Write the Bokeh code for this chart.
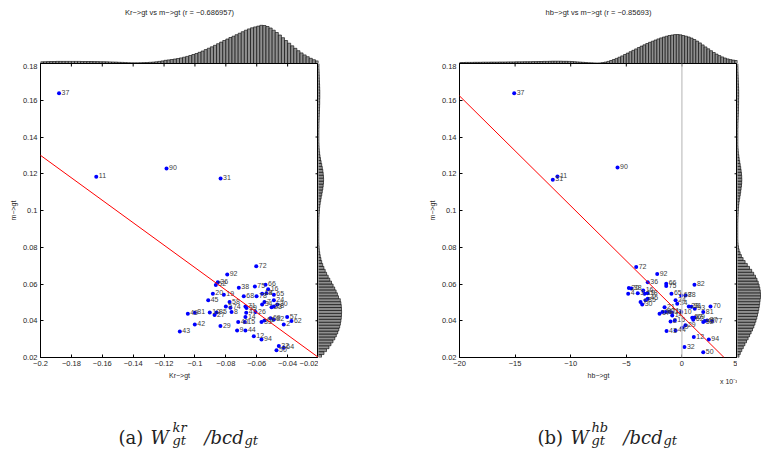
import numpy as np
from bokeh.plotting import figure
from bokeh.layouts import row, column
from bokeh.models import Range1d, FixedTicker, Span, Slope, Title
from bokeh.core.properties import value
from bokeh.embed import file_html
from bokeh.resources import INLINE

# ---------------- data ----------------
kr_ids = [37, 11, 90, 31, 72, 92, 36, 52, 38, 75, 66, 16, 20, 19, 68, 78, 18, 4, 65, 45,
          58, 24, 7, 34, 30, 23, 28, 5, 74, 71, 39, 26, 47, 8, 49, 81, 10, 85, 27, 14,
          69, 82, 61, 33, 57, 62, 2, 40, 15, 42, 29, 43, 9, 44, 12, 94, 32, 64, 50]
kr_x = [-0.188, -0.1639, -0.1184, -0.0834, -0.0603, -0.0791, -0.0852, -0.0865, -0.0716, -0.0612,
        -0.0543, -0.0526, -0.0884, -0.0813, -0.0684, -0.0601, -0.0565, -0.0537, -0.0489, -0.0914,
        -0.0776, -0.0489, -0.0550, -0.0565, -0.0467, -0.0504, -0.0489, -0.0800, -0.0770, -0.0673,
        -0.0666, -0.0608, -0.0668, -0.0763, -0.1046, -0.1001, -0.0904, -0.0860, -0.0873, -0.0673,
        -0.0511, -0.0489, -0.0550, -0.0569, -0.0403, -0.0375, -0.0425, -0.0720, -0.0677, -0.1001,
        -0.0835, -0.1098, -0.0727, -0.0673, -0.0619, -0.0569, -0.0457, -0.0425, -0.0472]
kr_m = [0.1638, 0.1183, 0.1229, 0.1174, 0.0696, 0.0652, 0.0609, 0.0595, 0.0580, 0.0587,
        0.0596, 0.0571, 0.0547, 0.0542, 0.0534, 0.0534, 0.0547, 0.0550, 0.0542, 0.0511,
        0.0502, 0.0511, 0.0502, 0.0489, 0.0489, 0.0474, 0.0478, 0.0478, 0.0471, 0.0478,
        0.0469, 0.0447, 0.0444, 0.0447, 0.0438, 0.0444, 0.0445, 0.0445, 0.0431, 0.0420,
        0.0414, 0.0407, 0.0402, 0.0393, 0.0420, 0.0398, 0.0380, 0.0393, 0.0393, 0.0380,
        0.0371, 0.0342, 0.0347, 0.0347, 0.0315, 0.0298, 0.0262, 0.0253, 0.0239]

hb_ids = [37, 31, 11, 90, 72, 92, 36, 66, 75, 82, 20, 38, 16, 4, 3, 19, 18, 65, 68, 78,
          45, 85, 7, 30, 24, 34, 21, 28, 91, 93, 70, 81, 10, 17, 26, 47, 71, 33, 14, 57,
          69, 62, 15, 2, 87, 77, 52, 42, 29, 9, 44, 43, 12, 94, 32, 50]
hb_x = [-15.08, -11.61, -11.19, -5.79, -4.11, -2.22, -3.07, -1.41, -1.41, 1.13,
        -4.77, -4.55, -3.48, -4.83, -3.97, -3.36, -3.10, -0.94, -0.06, 0.32,
        -3.07, -3.27, -3.72, -3.57, -0.57, -0.42, -1.56, 0.62, 0.85, 1.16,
        2.57, 1.92, -0.06, -2.01, -1.75, -1.45, -1.15, -0.90, -0.87, 0.93,
        1.15, 1.02, -0.64, -1.02, 2.27, 2.72, 1.92, 2.05, 0.32, 0.03,
        -0.57, -1.38, 1.07, 2.42, 0.23, 1.92]
hb_m = [0.1638, 0.1167, 0.1185, 0.1234, 0.0692, 0.0654, 0.0610, 0.0602, 0.0589, 0.0596,
        0.0578, 0.0575, 0.0565, 0.0547, 0.0550, 0.0547, 0.0550, 0.0547, 0.0538, 0.0538,
        0.0520, 0.0511, 0.0502, 0.0489, 0.0511, 0.0493, 0.0474, 0.0478, 0.0476, 0.0465,
        0.0478, 0.0447, 0.0447, 0.0438, 0.0447, 0.0447, 0.0449, 0.0445, 0.0429, 0.0416,
        0.0418, 0.0406, 0.0402, 0.0396, 0.0402, 0.0398, 0.0393, 0.0398, 0.0375, 0.0362,
        0.0347, 0.0344, 0.0311, 0.0298, 0.0257, 0.0229]

# least-squares lines (slope, intercept)
kr_fit = (-0.6111, 0.0078)
hb_fit = (-0.005983, 0.0427)

kr_xlim = (-0.2, -0.02)
hb_xlim = (-20, 5)
m_lim = (0.02, 0.18)

kr_xticks = [-0.2, -0.18, -0.16, -0.14, -0.12, -0.1, -0.08, -0.06, -0.04, -0.02]
kr_xtick_labels = ["\u22120.2", "\u22120.18", "\u22120.16", "\u22120.14", "\u22120.12",
                   "\u22120.1", "\u22120.08", "\u22120.06", "\u22120.04", "\u22120.02"]
hb_xticks = [-20, -15, -10, -5, 0, 5]
hb_xtick_labels = ["\u221220", "\u221215", "\u221210", "\u22125", "0", "5"]
hb_x_scale_label = "x 10\u207b\u00b3"
m_ticks = [0.02, 0.04, 0.06, 0.08, 0.1, 0.12, 0.14, 0.16, 0.18]
m_tick_labels = ["0.02", "0.04", "0.06", "0.08", "0.1", "0.12", "0.14", "0.16", "0.18"]

# marginal density profiles (relative heights)
kr_top_density = [1.7, 1.8, 1.9, 2.0, 2.0, 2.1, 2.1, 2.1, 2.1, 2.1,
                  2.1, 2.1, 2.1, 2.0, 2.0, 2.0, 2.0, 1.9, 1.9, 1.8,
                  1.8, 1.7, 1.6, 1.5, 1.4, 1.2, 1.1, 0.9, 0.8, 0.7,
                  0.7, 0.7, 0.8, 0.9, 1.0, 1.2, 1.4, 1.7, 2.1, 2.6,
                  3.2, 3.6, 4.0, 4.5, 5.0, 5.6, 6.3, 7.1, 8.0, 9.0,
                  10.0, 11.2, 12.5, 13.9, 15.3, 16.7, 18.2, 19.8, 21.4, 23.0,
                  24.5, 26.0, 27.3, 28.8, 30.3, 31.8, 33.3, 34.6, 35.7, 36.6,
                  37.4, 38.2, 38.0, 37.0, 35.5, 33.3, 31.0, 28.5, 25.8, 23.0,
                  20.3, 17.7, 15.2, 12.8, 10.6, 8.6, 6.8, 5.2, 3.8, 2.6]
hb_top_density = [1.0, 1.0, 1.1, 1.1, 1.1, 1.2, 1.2, 1.2, 1.3, 1.3,
                  1.3, 1.4, 1.4, 1.4, 1.5, 1.5, 1.5, 1.6, 1.6, 1.6,
                  1.7, 1.7, 1.7, 1.8, 1.8, 1.8, 1.9, 1.9, 2.0, 2.0,
                  2.1, 2.1, 2.2, 2.3, 2.3, 2.3, 2.3, 2.2, 2.2, 2.1,
                  2.0, 1.8, 1.6, 1.4, 1.2, 1.0, 0.8, 0.7, 0.6, 0.5,
                  0.6, 0.9, 1.4, 2.1, 3.0, 4.0, 5.1, 6.3, 7.6, 9.0,
                  10.4, 11.8, 13.2, 14.6, 16.0, 17.4, 18.7, 20.0, 21.2, 22.3,
                  23.5, 24.6, 25.6, 26.5, 27.3, 28.0, 28.5, 28.9, 29.0, 28.7,
                  28.0, 27.3, 26.5, 25.4, 24.0, 22.4, 20.6, 18.6, 16.6, 14.7,
                  12.8, 11.0, 9.4, 7.9, 6.6, 5.5, 4.6, 3.9, 3.4, 3.0]
kr_side_density = [3.0, 5.5, 8.0, 10.5, 12.5, 14.5, 16.3, 17.8, 19.2, 20.3,
                   21.2, 21.9, 22.4, 22.8, 23.0, 23.1, 23.0, 22.8, 22.4, 21.8,
                   20.0, 18.9, 17.6, 16.2, 14.6, 13.0, 11.3, 9.7, 8.1, 6.7,
                   5.4, 4.2, 3.2, 2.4, 1.7, 1.2, 0.8, 0.6, 0.4, 0.3,
                   0.3, 0.3, 0.3, 0.3, 0.3, 0.3, 0.4, 0.5, 0.6, 0.8,
                   1.0, 1.3, 1.7, 2.2, 2.7, 3.3, 3.8, 4.3, 4.7, 5.0,
                   5.1, 5.0, 4.7, 4.3, 3.8, 3.2, 2.6, 2.0, 1.5, 1.1,
                   0.8, 0.6, 0.5, 0.4, 0.4, 0.4, 0.4, 0.4, 0.5, 0.5,
                   0.6, 0.7, 0.8, 0.9, 1.0, 1.1, 1.2, 1.2, 1.3, 1.3,
                   1.3, 1.2, 1.1, 1.0, 0.9, 0.8, 0.7, 0.6, 0.5, 0.5]
hb_side_density = [1.5, 2.8, 4.3, 5.8, 7.4, 9.0, 10.6, 12.1, 13.6, 15.0,
                   16.3, 17.4, 18.4, 19.3, 20.0, 20.7, 21.3, 21.8, 22.2, 22.6,
                   23.0, 23.0, 22.8, 22.3, 21.6, 20.7, 19.5, 18.0, 16.2, 14.2,
                   12.0, 9.8, 7.6, 5.6, 3.9, 2.6, 1.6, 1.0, 0.6, 0.4,
                   0.3, 0.3, 0.3, 0.3, 0.3, 0.3, 0.4, 0.5, 0.6, 0.7,
                   0.9, 1.1, 1.4, 1.8, 2.3, 2.8, 3.2, 3.6, 4.0, 4.2,
                   4.3, 4.2, 4.0, 3.6, 3.2, 2.7, 2.2, 1.7, 1.3, 0.9,
                   0.7, 0.5, 0.4, 0.4, 0.4, 0.4, 0.4, 0.4, 0.5, 0.5,
                   0.6, 0.7, 0.8, 0.9, 1.0, 1.0, 1.1, 1.1, 1.2, 1.2,
                   1.2, 1.1, 1.0, 0.9, 0.8, 0.7, 0.6, 0.5, 0.5, 0.4]

titles = ["Kr\u2212>gt vs m\u2212>gt (r = \u22120.686957)",
          "hb\u2212>gt vs m\u2212>gt (r = \u22120.85693)"]
xlabels = ["Kr\u2212>gt", "hb\u2212>gt"]
ylabel = "m\u2212>gt"

# ---------------- layout constants ----------------
PW = 381
FW = 278
TOP_H = 63
TOP_BORDER = 20
SC_H = 322
SC_BOTTOM = 28
CAP_H = 451 - TOP_H - SC_H
SANS = "Liberation Sans"
SERIF = "DejaVu Serif"
TXT = "#262626"


def style_axis(ax, ticks, labels):
    ax.ticker = FixedTicker(ticks=ticks)
    ax.major_label_overrides = {t: s for t, s in zip(ticks, labels)}
    ax.major_tick_in = 3
    ax.major_tick_out = 0
    ax.minor_tick_line_color = None
    ax.axis_line_color = "black"
    ax.axis_line_width = 1
    ax.major_tick_line_color = "black"
    ax.major_label_text_font = SANS
    ax.major_label_text_font_size = "7.5px"
    ax.major_label_text_color = TXT
    ax.major_label_standoff = 3
    ax.axis_label_text_font = SANS
    ax.axis_label_text_font_size = "7px"
    ax.axis_label_text_font_style = "normal"
    ax.axis_label_text_color = TXT
    ax.axis_label_standoff = 3


def panel(left_b, side_w, xlim, xticks, xtick_labels, ids, xs, ms, fit,
          top_dens, side_dens, title, xlabel, zero_line=False, scale_label=None):
    xr = Range1d(*xlim)
    yr = Range1d(*m_lim)

    # top marginal
    top = figure(width=PW, height=TOP_H, x_range=xr, y_range=Range1d(0, TOP_H - TOP_BORDER),
                 output_backend="svg", toolbar_location=None, x_axis_type=None, y_axis_type=None,
                 min_border_left=left_b, min_border_right=side_w, min_border_top=TOP_BORDER,
                 min_border_bottom=0, title=title)
    top.title.align = "center"
    top.title.text_font = SANS
    top.title.text_font_size = "7.5px"
    top.title.text_font_style = "normal"
    top.title.text_color = TXT
    top.title.standoff = 8
    top.outline_line_color = None
    top.grid.visible = False
    n = len(top_dens)
    bw = (xlim[1] - xlim[0]) / n
    cx = xlim[0] + bw * (np.arange(n) + 0.5)
    top.vbar(x=cx, top=top_dens, bottom=0, width=bw, fill_color="#8f8f8f",
             line_color="black", line_width=0.6)

    # scatter
    p = figure(width=left_b + FW, height=SC_H, x_range=xr, y_range=yr,
               output_backend="svg", toolbar_location=None,
               min_border_left=left_b, min_border_right=0, min_border_top=0,
               min_border_bottom=SC_BOTTOM)
    p.grid.visible = False
    p.outline_line_color = "black"
    p.outline_line_width = 1
    style_axis(p.xaxis[0], xticks, xtick_labels)
    style_axis(p.yaxis[0], m_ticks, m_tick_labels)
    p.xaxis.axis_label = xlabel
    p.yaxis.axis_label = ylabel
    if scale_label is not None:
        p.add_layout(Title(text=scale_label, align="right", vertical_align="top",
                           standoff=-8, offset=0, text_font=SANS, text_font_size="7px",
                           text_font_style="normal", text_color=TXT), "below")
    # inward tick marks on the top and right edges of the box
    p.scatter(xticks, [m_lim[1]] * len(xticks), marker="dash", angle=np.pi / 2, size=6,
              line_color="black", line_width=1)
    p.scatter([xlim[1]] * len(m_ticks), m_ticks, marker="dash", size=6,
              line_color="black", line_width=1)
    if zero_line:
        p.add_layout(Span(location=0, dimension="height", line_color="#c4c4c4", line_width=1.3))
    p.add_layout(Slope(gradient=fit[0], y_intercept=fit[1], line_color="#ff0000", line_width=1))
    p.scatter(xs, ms, size=4, fill_color="#0000ff", line_color=None)
    p.text(xs, ms, text=[str(i) for i in ids], x_offset=2.5, y_offset=-1,
           text_font=value(SANS), text_font_size="7px", text_baseline="middle",
           text_color="#404040")

    # side marginal
    s = figure(width=side_w, height=SC_H, x_range=Range1d(0, side_w), y_range=yr,
               output_backend="svg", toolbar_location=None, x_axis_type=None, y_axis_type=None,
               min_border_left=0, min_border_right=0, min_border_top=0,
               min_border_bottom=SC_BOTTOM)
    s.outline_line_color = None
    s.grid.visible = False
    k = len(side_dens)
    bh = (m_lim[1] - m_lim[0]) / k
    cy = m_lim[0] + bh * (np.arange(k) + 0.5)
    s.hbar(y=cy, right=side_dens, left=0, height=bh, fill_color="#8f8f8f",
           line_color="black", line_width=0.6)
    return top, p, s


def caption(left_b, side_w, pieces):
    # frame aligned with the plots above it; x coordinates are panel pixels
    c = figure(width=PW, height=CAP_H, x_range=Range1d(left_b, left_b + FW),
               y_range=Range1d(CAP_H, 0),
               output_backend="svg", toolbar_location=None, x_axis_type=None, y_axis_type=None,
               min_border_left=left_b, min_border_right=side_w, min_border_top=0,
               min_border_bottom=0)
    c.outline_line_color = None
    c.grid.visible = False
    for txt, x, y, size, style in pieces:
        c.text([x], [y], text=[txt], text_font=value(SERIF), text_font_size=size,
               text_font_style=style, text_baseline="alphabetic", text_align="left",
               text_color="#222222")
    return c


topA, scA, sideA = panel(40, PW - 40 - FW, kr_xlim, kr_xticks, kr_xtick_labels,
                         kr_ids, kr_x, kr_m, kr_fit, kr_top_density, kr_side_density,
                         titles[0], xlabels[0])
topB, scB, sideB = panel(78, PW - 78 - FW, hb_xlim, hb_xticks, hb_xtick_labels,
                         hb_ids, hb_x, hb_m, hb_fit, hb_top_density, hb_side_density,
                         titles[1], xlabels[1], zero_line=True, scale_label=hb_x_scale_label)

capA = caption(40, PW - 40 - FW,
               [("(a)", 118, 51.5, "18px", "normal"),
                ("W", 150, 51.5, "18px", "italic"),
                ("kr", 172, 42, "13px", "italic"),
                ("gt", 172, 55, "13px", "italic"),
                ("/bcd", 204, 51.5, "18px", "italic"),
                ("gt", 244, 55, "13px", "italic")])
capB = caption(78, PW - 78 - FW,
               [("(b)", 156, 51.5, "18px", "normal"),
                ("W", 189, 51.5, "18px", "italic"),
                ("hb", 210, 42, "13px", "italic"),
                ("gt", 210, 55, "13px", "italic"),
                ("/bcd", 242, 51.5, "18px", "italic"),
                ("gt", 282, 55, "13px", "italic")])

colA = column(topA, row(scA, sideA, spacing=0), capA, spacing=0)
colB = column(topB, row(scB, sideB, spacing=0), capB, spacing=0)
layout = row(colA, colB, spacing=0)

open("out.html", "w").write(file_html(layout, INLINE))
